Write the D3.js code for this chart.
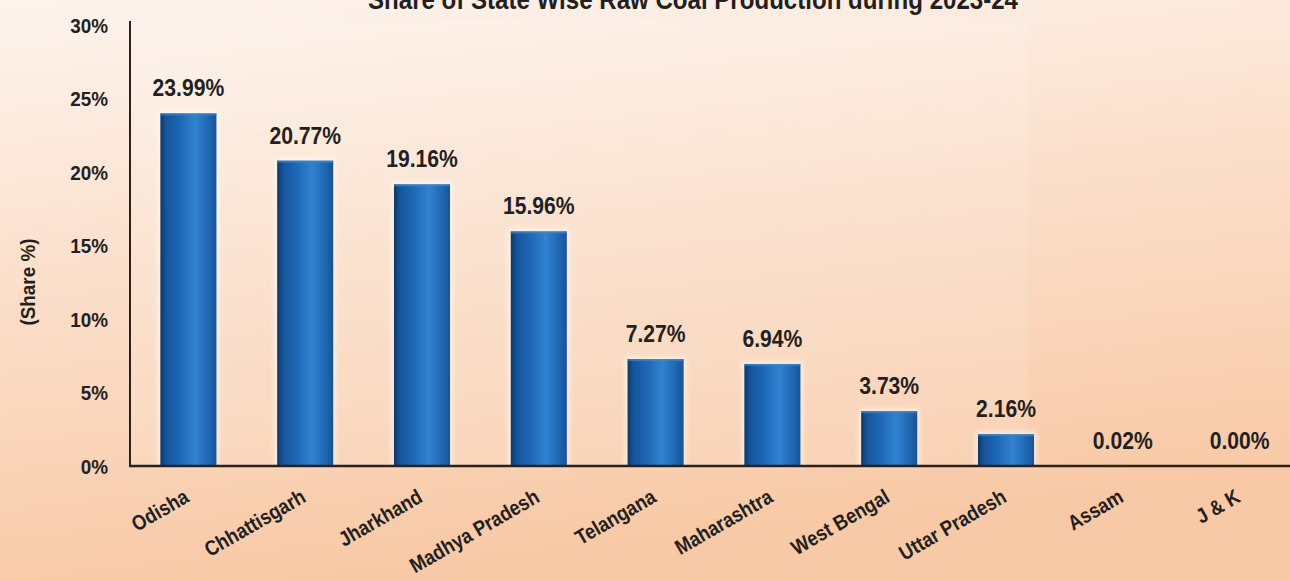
<!DOCTYPE html>
<html><head><meta charset="utf-8">
<script src="https://cdn.jsdelivr.net/npm/d3@7"></script>
<style>
html,body{margin:0;padding:0;overflow:hidden;}
svg{display:block;}
text{font-family:"Liberation Sans",Arial,sans-serif;font-weight:bold;fill:#231f20;}
</style></head>
<body>
<script>
const categories = ["Odisha","Chhattisgarh","Jharkhand","Madhya Pradesh","Telangana","Maharashtra","West Bengal","Uttar Pradesh","Assam","J & K"];
const shares = [23.99,20.77,19.16,15.96,7.27,6.94,3.73,2.16,0.02,0.00];
const valueLabels = ["23.99%","20.77%","19.16%","15.96%","7.27%","6.94%","3.73%","2.16%","0.02%","0.00%"];
const yTicks = [0,5,10,15,20,25,30];
const title = "Share of State Wise Raw Coal Production during 2023-24";
const yTitle = "(Share %)";

const W = 1290, H = 581;
const svg = d3.select("body").append("svg").attr("width", W).attr("height", H);
const defs = svg.append("defs");

const bg = defs.append("linearGradient").attr("id","bg").attr("x1","0").attr("y1","0").attr("x2","0.25").attr("y2","1");
bg.append("stop").attr("offset","0").attr("stop-color","#fdf4ee");
bg.append("stop").attr("offset","0.45").attr("stop-color","#fbe0cc");
bg.append("stop").attr("offset","1").attr("stop-color","#f8c9a6");
svg.append("rect").attr("width",W).attr("height",H).attr("fill","url(#bg)");

const bar = defs.append("linearGradient").attr("id","bar").attr("x1","0").attr("x2","1").attr("y1","0").attr("y2","0");
[["0","#0f3768"],["0.1","#15549a"],["0.35","#1e68b6"],["0.62","#3182d0"],["0.85","#2068b3"],["1","#175396"]]
  .forEach(([o,c])=>bar.append("stop").attr("offset",o).attr("stop-color",c));

const glow = defs.append("filter").attr("id","glow").attr("x","-20%").attr("y","-20%").attr("width","140%").attr("height","140%");
glow.append("feGaussianBlur").attr("stdDeviation","2.5");

const x = d3.scaleBand().domain(categories).range([130, 1298]).paddingInner(0.52).paddingOuter(0.26);
const y = d3.scaleLinear().domain([0,30]).range([466, 25]);

// plot area lighter panel
svg.append("rect").attr("x",130).attr("y",19).attr("width",898).attr("height",447)
  .attr("fill","#fff").attr("opacity",0.12);

// title
svg.append("text").attr("transform","translate(693,9) scale(0.86,1)").attr("text-anchor","middle")
  .style("font-size","28px").text(title);

// y axis
const yAxis = d3.axisLeft(y).tickValues(yTicks).tickSize(0).tickFormat(d=>d+"%");
const gy = svg.append("g").attr("transform","translate(130,0)").call(yAxis);
gy.select(".domain").remove();
gy.selectAll("text").attr("x",0).attr("transform","translate(-22,0) scale(0.9,1)")
  .style("font-size","21px").attr("dy","0.35em").attr("text-anchor","end").attr("fill","#231f20");
svg.append("line").attr("x1",130).attr("x2",130).attr("y1",21).attr("y2",467)
  .attr("stroke","#2b2220").attr("stroke-width",2);

svg.append("text").attr("transform","translate(35,282) rotate(-90) scale(0.9,1)").attr("text-anchor","middle")
  .style("font-size","21px").text(yTitle);

// bars
const gb = svg.append("g");
gb.selectAll("rect.halo").data(categories).join("rect").attr("class","halo")
  .attr("x",d=>x(d)-3).attr("width",x.bandwidth()+6)
  .attr("y",(d,i)=>y(shares[i])-3).attr("height",(d,i)=>Math.max(0,y(0)-y(shares[i])+3))
  .attr("fill","#fff").attr("opacity",(d,i)=>shares[i]>0.1?0.5:0).attr("filter","url(#glow)");
gb.selectAll("rect.bar").data(categories).join("rect").attr("class","bar")
  .attr("x",d=>x(d)).attr("width",x.bandwidth())
  .attr("y",(d,i)=>y(shares[i])).attr("height",(d,i)=>y(0)-y(shares[i]))
  .attr("fill","url(#bar)");
gb.selectAll("rect.top").data(categories).join("rect").attr("class","top")
  .attr("x",d=>x(d)).attr("width",x.bandwidth())
  .attr("y",(d,i)=>y(shares[i])).attr("height",(d,i)=>shares[i]>0.1?2:0)
  .attr("fill","#3d86cc").attr("opacity",0.7);

// baseline
svg.append("line").attr("x1",129).attr("x2",1290).attr("y1",466).attr("y2",466)
  .attr("stroke","#2b2220").attr("stroke-width",2.5);

// value labels
svg.selectAll("text.val").data(categories).join("text").attr("class","val")
  .attr("transform",(d,i)=>`translate(${x(d)+x.bandwidth()/2},${y(shares[i])-17}) scale(0.88,1)`)
  .attr("text-anchor","middle").style("font-size","24px")
  .text((d,i)=>valueLabels[i]);

// category labels
svg.selectAll("text.cat").data(categories).join("text").attr("class","cat")
  .attr("transform",d=>`translate(${x(d)+x.bandwidth()/2+2},${501}) rotate(-30) scale(0.87,1)`)
  .attr("text-anchor","end").style("font-size","21px")
  .text(d=>d);
</script>
</body></html>
